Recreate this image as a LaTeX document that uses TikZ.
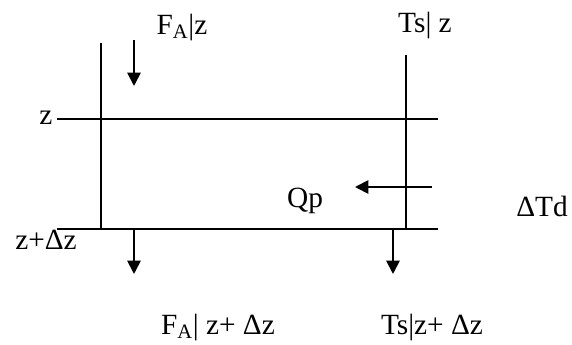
\documentclass[tikz,border=0pt]{standalone}
\usepackage{fontspec}
\setmainfont{Liberation Serif}
\usetikzlibrary{arrows.meta}

\begin{document}
\begin{tikzpicture}[
    x=0.75pt, y=-0.75pt,
    label_text/.style={inner sep=1pt, font=\fontsize{22}{24}\selectfont},
    wall/.style={line width=1.2pt},
    flow/.style={-{Triangle[width=10pt,length=10pt]}, line width=1.4pt}
]
    \useasboundingbox (0,0) rectangle (572,345);
    % lines of the element
    \coordinate (LT) at (101,43);
    \coordinate (LB) at (101,229);
    \coordinate (RT) at (406,55);
    \coordinate (RB) at (406,229);
    \coordinate (ZL) at (57,119);
    \coordinate (ZR) at (438,119);
    \coordinate (DL) at (57,229);
    \coordinate (DR) at (438,229);
    \draw [wall] (LT) -- (LB);
    \draw [wall] (RT) -- (RB);
    \draw [wall] (ZL) -- (ZR);
    \draw [wall] (DL) -- (DR);
    % labels
    \node[label_text] (FAz) at (182,27) {F\textsubscript{A}|z};
    \node[label_text] (Tsz) at (425,25) {Ts| z};
    \node[label_text, anchor=east] (z) at (54,118) {z};
    \node[label_text] (zdz) at (46,240) {z+Δz};
    \node[label_text] (Qp) at (305,201) {Qp};
    \node[label_text] (dTd) at (542,206) {ΔTd};
    \node[label_text] (FAzdz) at (218,327) {F\textsubscript{A}| z+ Δz};
    \node[label_text] (Tszdz) at (432,327) {Ts|z+ Δz};
    % arrows
    \coordinate (a1) at (134,40);
    \coordinate (a2) at (134,86);
    \coordinate (b1) at (134,229);
    \coordinate (b2) at (134,274);
    \coordinate (c1) at (393,229);
    \coordinate (c2) at (393,274);
    \coordinate (d1) at (432,187);
    \coordinate (d2) at (355,187);
    \draw [flow] (a1) -- (a2);
    \draw [flow] (b1) -- (b2);
    \draw [flow] (c1) -- (c2);
    \draw [flow] (d1) -- (d2);
\end{tikzpicture}
\end{document}
